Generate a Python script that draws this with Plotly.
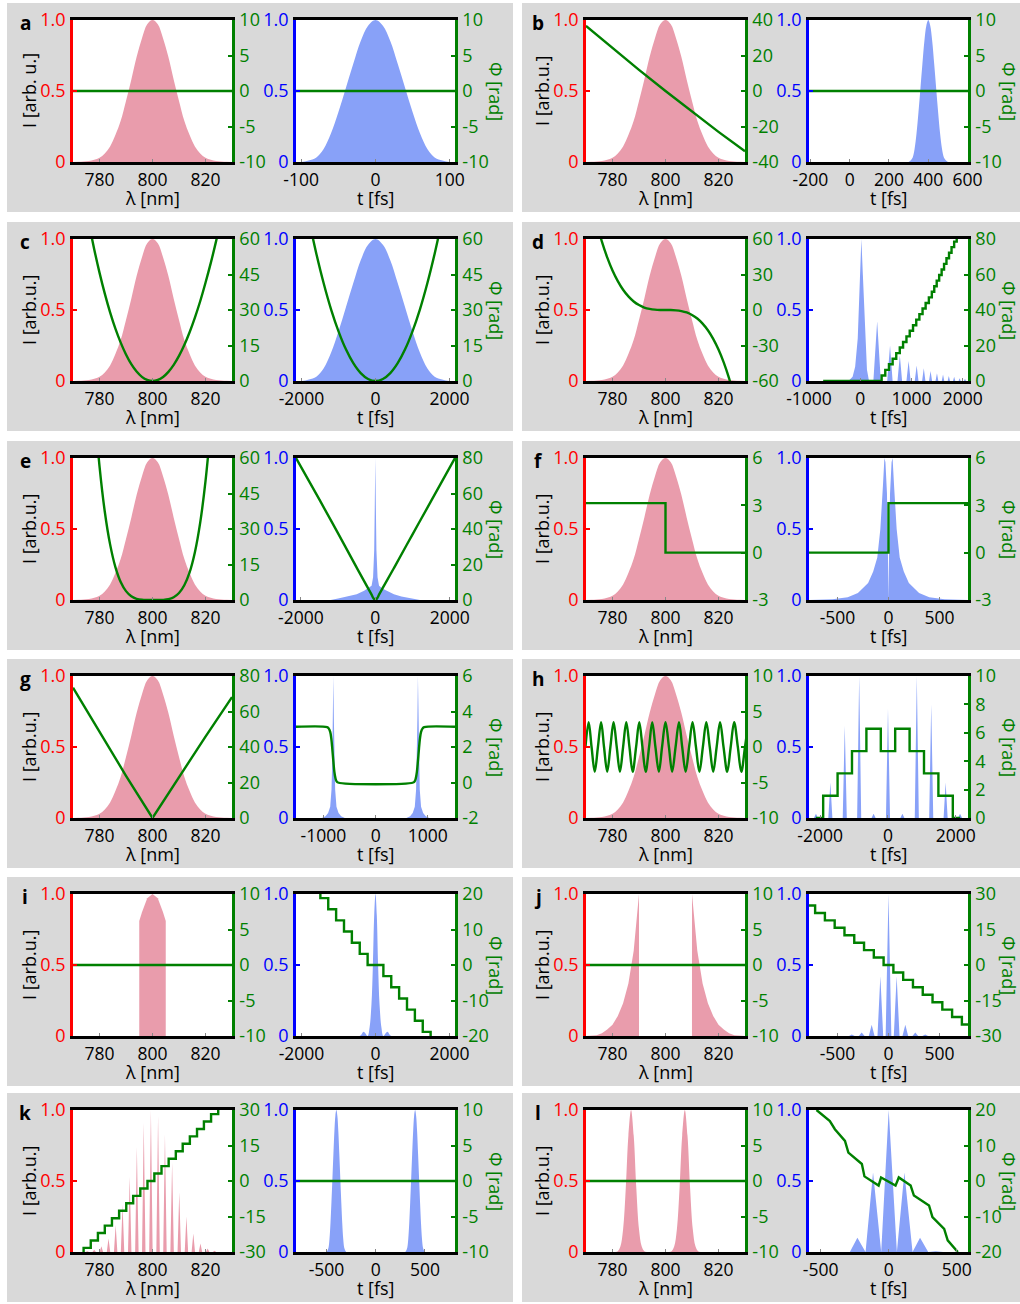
import plotly.graph_objects as go

W, H = 1020, 1304
FONT = "Open Sans"
RED, BLUE, GREEN = "#ff0000", "#0000ff", "#008000"
PINK, LBLUE = "#e99cac", "#88a1f8"
PANEL_BG = "#d9d9d9"

# ---------------- shared spectrum (panels a-h) ----------------
spec_wl = list(range(770, 831, 2))
spec_int = [0.0, 0.001, 0.003, 0.007, 0.016, 0.03, 0.06, 0.11, 0.19, 0.29, 0.43, 0.58, 0.74, 0.87, 0.97,
            1.0, 0.97, 0.87, 0.74, 0.58, 0.43, 0.29, 0.19, 0.11, 0.06, 0.03, 0.016, 0.007, 0.003, 0.001, 0.0]
flat_wl = [770, 830]
flat_phase = [0, 0]

# transform-limited pulse profile, 10 fs grid
tl_int = [0, 0, 0.01, 0.03, 0.09, 0.20, 0.35, 0.52, 0.69, 0.85, 0.96, 1.0,
          0.96, 0.85, 0.69, 0.52, 0.35, 0.20, 0.09, 0.03, 0.01, 0, 0]

# ---------------- a ----------------
a_t = list(range(-110, 111, 10))
a_tp = [-110, 110]

# ---------------- b ----------------
b_phase_wl = [770, 780, 790, 800, 810, 820, 830]
b_phase = [36.7, 24.2, 11.9, 0.0, -11.6, -23.0, -34.0]
b_t = list(range(290, 511, 10))
b_tp = [-210, 610]

# ---------------- c ----------------
c_phase_wl = list(range(776, 827, 2))
c_phase = [66.7, 55.7, 45.8, 36.9, 29.0, 22.1, 16.2, 11.2, 7.1, 4.0, 1.76, 0.44, 0.0,
           0.43, 1.72, 3.86, 6.83, 10.6, 15.2, 20.6, 26.8, 33.7, 41.5, 49.9, 59.1, 69.1]
c_t = list(range(-2200, 2201, 200))
c_tphase_t = list(range(-1800, 1801, 200))
c_tphase = [68.1, 53.8, 41.2, 30.2, 21.0, 13.4, 7.56, 3.36, 0.84, 0.0,
            0.84, 3.36, 7.56, 13.4, 21.0, 30.2, 41.2, 53.8, 68.1]

# ---------------- d ----------------
d_phase_wl = list(range(774, 827, 2))
d_phase = [73.5, 57.8, 44.5, 33.4, 24.4, 17.1, 11.5, 7.2, 4.2, 2.1, 0.9, 0.27, 0.03, 0.0,
           -0.03, -0.27, -0.9, -2.1, -4.2, -7.2, -11.5, -17.1, -24.4, -33.4, -44.5, -57.8, -73.5]
d_t = [-1000, -230, -150, -100, -50, -10, 21, 50, 90, 130, 170,
       255, 329, 400, 525, 580, 630, 725, 771, 815, 900, 942, 982, 1062, 1099, 1135,
       1205, 1238, 1270, 1340, 1370, 1400, 1467, 1495, 1522, 1588, 1613, 1638,
       1703, 1726, 1749, 1808, 1830, 1852, 1916, 1937, 1958, 2021, 2041, 2061, 2100]
d_int = [0, 0, 0.03, 0.1, 0.3, 0.65, 1.0, 0.75, 0.35, 0.08, 0,
         0, 0.42, 0, 0, 0.25, 0, 0, 0.18, 0, 0, 0.14, 0, 0, 0.11, 0,
         0, 0.09, 0, 0, 0.07, 0, 0, 0.055, 0, 0, 0.045, 0,
         0, 0.035, 0, 0, 0.03, 0, 0, 0.02, 0, 0, 0.015, 0, 0]
d_tphase_t = [-724, 416, 487, 559, 631, 701, 770, 834, 900, 964, 1028, 1091, 1152, 1214,
              1274, 1337, 1395, 1442, 1490, 1538, 1586, 1633, 1680, 1730, 1779, 1830, 1880]
d_tphase = [0, 3.14, 6.28, 9.42, 12.57, 15.71, 18.85, 21.99, 25.13, 28.27, 31.42, 34.56, 37.70,
            40.84, 43.98, 47.12, 50.27, 53.41, 56.55, 59.69, 62.83, 65.97, 69.12, 72.26, 75.40,
            78.54, 81.68]

# ---------------- e ----------------
e_phase_wl = list(range(778, 823, 2))
e_phase = [82.4, 56.6, 37.3, 23.5, 13.9, 7.6, 3.75, 1.58, 0.52, 0.11, 0.01, 0.0,
           0.0, 0.06, 0.35, 1.17, 2.95, 6.24, 11.7, 20.2, 32.7, 50.2, 73.8]
e_t = [-2140, -1200, -1000, -700, -500, -300, -200, -100, -60, -30, -15, 0,
       15, 30, 60, 100, 200, 300, 500, 700, 1000, 1200, 2140]
e_int = [0, 0, 0.01, 0.025, 0.04, 0.065, 0.08, 0.1, 0.16, 0.35, 0.65, 1.0,
         0.65, 0.35, 0.16, 0.1, 0.08, 0.065, 0.04, 0.025, 0.01, 0, 0]
e_tphase_t = [-2130, -1500, -1000, -500, -200, -100, -50, 0, 50, 100, 200, 500, 1000, 1500, 2140]
e_tphase = [80, 56.5, 37.5, 18.2, 6.8, 3.0, 1.0, 0.0, 1.0, 3.0, 6.8, 18.0, 37.0, 55.8, 80]

# ---------------- f ----------------
f_phase_wl = [770, 800, 800, 830]
f_phase = [3.14, 3.14, 0.0, 0.0]
f_t = [-780, -550, -400, -300, -200, -150, -110, -80, -55, -40, -30, -15, -5, 0,
       5, 15, 30, 40, 55, 80, 110, 150, 200, 300, 400, 550, 780]
f_int = [0, 0.006, 0.02, 0.05, 0.12, 0.2, 0.3, 0.5, 0.8, 1.0, 0.97, 0.75, 0.3, 0,
         0.3, 0.75, 0.97, 1.0, 0.8, 0.5, 0.3, 0.2, 0.12, 0.05, 0.02, 0.006, 0]
f_tphase_t = [-780, 0, 0, 780]
f_tphase = [0.0, 0.0, 3.14, 3.14]

# ---------------- g ----------------
g_phase_wl = [770, 780, 790, 800, 810, 820, 830]
g_phase = [73.4, 48.3, 23.8, 0.0, 23.3, 45.9, 68.1]
g_t = [-1525, -1030, -960, -910, -870, -845, -830, -820, -810, -800, -790, -775, -750, -710, -660, -590,
       590, 660, 710, 750, 775, 790, 800, 810, 820, 830, 845, 870, 910, 960, 1030, 1520]
g_int = [0, 0, 0.012, 0.035, 0.08, 0.2, 0.42, 0.7, 1.0, 0.7, 0.42, 0.2, 0.08, 0.035, 0.012, 0,
         0, 0.012, 0.035, 0.08, 0.2, 0.42, 0.7, 1.0, 0.7, 0.42, 0.2, 0.08, 0.035, 0.012, 0, 0]
g_tphase_t = [-1525, -930, -900, -870, -850, -830, -810, -790, -770, -750, -720,
              720, 750, 770, 790, 810, 830, 850, 870, 900, 930, 1520]
g_tphase = [3.14, 3.12, 3.05, 2.85, 2.5, 1.9, 1.2, 0.6, 0.25, 0.08, 0.0,
            0.0, 0.08, 0.25, 0.6, 1.2, 1.9, 2.5, 2.85, 3.05, 3.12, 3.14]

# ---------------- h ----------------
h_phase_wl = [769.8, 771.0, 772.1, 773.3, 774.5, 775.7, 776.8, 778.0, 779.2, 780.4, 781.6, 782.8,
              784.0, 785.2, 786.4, 787.6, 788.9, 790.1, 791.3, 792.5, 793.8, 795.0, 796.2, 797.5,
              798.7, 800.0, 801.3, 802.5, 803.8, 805.1, 806.3, 807.6, 808.9, 810.2, 811.5, 812.8,
              814.1, 815.4, 816.7, 818.0, 819.3, 820.6, 821.9, 823.3, 824.6, 825.9, 827.3, 828.6,
              830.0, 831.3]
h_phase = [0, 3.5, 0, -3.5, 0, 3.5, 0, -3.5, 0, 3.5, 0, -3.5,
           0, 3.5, 0, -3.5, 0, 3.5, 0, -3.5, 0, 3.5, 0, -3.5,
           0, 3.5, 0, -3.5, 0, 3.5, 0, -3.5, 0, 3.5, 0, -3.5,
           0, 3.5, 0, -3.5, 0, 3.5, 0, -3.5, 0, 3.5, 0, -3.5,
           0, 3.5]
h_peak_t = [-2125, -1700, -1275, -850, -425, 0, 425, 850, 1275, 1700, 2125]
h_peak_int = [0.03, 0.25, 0.65, 1.0, 0.03, 0.77, 0.03, 1.0, 0.8, 0.25, 0.03]
h_tphase_t = [-2130, -1912, -1487, -1062, -637, -212, 212, 637, 1062, 1487, 1912, 2130]
h_tphase = [0, 1.57, 3.14, 4.71, 6.28, 4.71, 6.28, 4.71, 3.14, 1.57, 0, 0]

# ---------------- i ----------------
i_wl = [795, 795, 796, 798, 800, 802, 804, 805, 805]
i_int = [0, 0.81, 0.87, 0.97, 1.0, 0.97, 0.87, 0.81, 0]
i_t = [-2150, -430, -320, -213, -160, -110, -70, -35, 0, 35, 70, 110, 160, 213, 320, 430, 2150]
i_tint = [0, 0, 0.03, 0, 0.06, 0.22, 0.5, 0.85, 1.0, 0.85, 0.5, 0.22, 0.06, 0, 0.03, 0, 0]
i_tphase_t = [-1510, -1491, -1278, -1065, -852, -639, -426, -213, 213, 426, 639, 852, 1065, 1278, 1491, 1510]
i_tphase = [21.99, 18.85, 15.71, 12.57, 9.42, 6.28, 3.14, 0.0, -3.14, -6.28, -9.42, -12.57,
            -15.71, -18.85, -21.99, -21.99]

# ---------------- j ----------------
j_wl = [770, 772, 774, 776, 778, 780, 782, 784, 786, 788, 789, 790, 790.01,
        809.99, 810, 811, 812, 814, 816, 818, 820, 822, 824, 826, 828, 830]
j_int = [0, 0.001, 0.005, 0.02, 0.045, 0.08, 0.14, 0.23, 0.37, 0.6, 0.78, 1.0, 0,
         0, 1.0, 0.78, 0.6, 0.37, 0.23, 0.14, 0.08, 0.045, 0.02, 0.005, 0.001, 0]
j_peak_t = [-360, -263, -165, -80, 0, 80, 165, 263, 360]
j_peak_int = [0.01, 0.025, 0.08, 0.42, 1.0, 0.42, 0.08, 0.025, 0.01]
j_tphase_t = [-780, -720, -624, -528, -432, -336, -240, -144, -48, 48, 144, 240, 336, 432, 528, 624, 720, 780]
j_tphase = [25.13, 21.99, 18.85, 15.71, 12.57, 9.42, 6.28, 3.14, 0.0, -3.14, -6.28, -9.42,
            -12.57, -15.71, -18.85, -21.99, -25.13, -25.13]

# ---------------- k ----------------
k_peak_wl = [772.7, 775.4, 778.0, 780.7, 783.4, 786.1, 788.7, 791.4, 794.1, 796.7,
             799.4, 802.1, 804.7, 807.4, 810.1, 812.8, 815.4, 818.1, 820.8, 823.4]
k_peak_int = [0.002, 0.006, 0.016, 0.041, 0.095, 0.19, 0.335, 0.53, 0.74, 0.91,
              1.0, 0.96, 0.83, 0.63, 0.42, 0.25, 0.13, 0.06, 0.025, 0.009]
k_phase_wl = [772.0, 774.0, 776.7, 779.4, 782.0, 784.7, 787.4, 790.1, 792.7, 795.4, 798.1,
              800.7, 803.4, 806.1, 808.8, 811.4, 814.1, 816.8, 819.4, 822.1, 824.8]
k_phase = [-31.42, -28.27, -25.13, -21.99, -18.85, -15.71, -12.57, -9.42, -6.28, -3.14, 0.0,
           3.14, 6.28, 9.42, 12.57, 15.71, 18.85, 21.99, 25.13, 28.27, 31.42]
k_t1 = list(range(-510, -289, 10))
k_t2 = list(range(290, 511, 10))
k_tp = [-810, 810]

# ---------------- l ----------------
l_wl1 = [781, 782, 783, 784, 785, 786, 787, 788, 789, 790, 791, 792, 793]
l_wl2 = [801.3, 802.3, 803.3, 804.3, 805.3, 806.3, 807.3, 808.3, 809.3, 810.3, 811.3, 812.3, 813.3]
l_line = [0, 0.006, 0.04, 0.16, 0.445, 0.82, 1.0, 0.82, 0.445, 0.16, 0.04, 0.006, 0]
l_peak_t = [-345, -230, -115, 0, 115, 230, 345]
l_peak_int = [0.005, 0.1, 0.56, 1.0, 0.56, 0.1, 0.005]
l_tphase_t = [-530, -432, -395, -321, -296, -197, -178, -74, -56, 50, 74, 161, 185, 296, 321, 407, 433, 507]
l_tphase = [20, 16.9, 14.6, 11.3, 8.0, 4.8, 1.3, -1.3, 1.0, -1.3, 1.0, -1.3, -4.1, -6.9, -10.2,
            -13.5, -16.7, -20]


def spikes(lo, hi, centers, heights, hw):
    xs, ys = [lo], [0]
    for c, h in zip(centers, heights):
        xs += [c - hw, c, c + hw]
        ys += [0, h, 0]
    xs.append(hi)
    ys.append(0)
    return xs, ys


h_t, h_int = spikes(-2340, 2360, h_peak_t, h_peak_int, 60)
j_t, j_int_t = spikes(-780, 780, j_peak_t, j_peak_int, 28)
k_wl, k_int = spikes(770, 830, k_peak_wl, k_peak_int, 0.65)
l_t, l_int = spikes(-585, 585, l_peak_t, l_peak_int, 55)

P10 = ([-10, -5, 0, 5, 10], [-10, 10])
SPEC_X = dict(range=[770, 830], ticks=[780, 800, 820])

panels = [
    dict(letter="a", row=0, col=0, ylabel="I [arb. u.]",
         spec=[(spec_wl, spec_int, "spline")], sphase=(flat_wl, flat_phase, "linear"), sp=P10,
         time=[(a_t, tl_int, "spline")], tphase=(a_tp, flat_phase, "linear"), tp=P10,
         trange=[-107, 107], tticks=[-100, 0, 100]),
    dict(letter="b", row=0, col=1, ylabel="I [arb.u.]",
         spec=[(spec_wl, spec_int, "spline")], sphase=(b_phase_wl, b_phase, "linear"),
         sp=([-40, -20, 0, 20, 40], [-40, 40]),
         time=[(b_t, tl_int, "spline")], tphase=(b_tp, flat_phase, "linear"), tp=P10,
         trange=[-207, 602], tticks=[-200, 0, 200, 400, 600]),
    dict(letter="c", row=1, col=0, ylabel="I [arb.u.]",
         spec=[(spec_wl, spec_int, "spline")], sphase=(c_phase_wl, c_phase, "spline"),
         sp=([0, 15, 30, 45, 60], [0, 60]),
         time=[(c_t, tl_int, "spline")], tphase=(c_tphase_t, c_tphase, "spline"),
         tp=([0, 15, 30, 45, 60], [0, 60]),
         trange=[-2150, 2150], tticks=[-2000, 0, 2000]),
    dict(letter="d", row=1, col=1, ylabel="I [arb.u.]",
         spec=[(spec_wl, spec_int, "spline")], sphase=(d_phase_wl, d_phase, "spline"),
         sp=([-60, -30, 0, 30, 60], [-60, 60]),
         time=[(d_t, d_int, "linear")], tphase=(d_tphase_t, d_tphase, "hv"),
         tp=([0, 20, 40, 60, 80], [0, 80]),
         trange=[-1000, 2100], tticks=[-1000, 0, 1000, 2000]),
    dict(letter="e", row=2, col=0, ylabel="I [arb.u.]",
         spec=[(spec_wl, spec_int, "spline")], sphase=(e_phase_wl, e_phase, "spline"),
         sp=([0, 15, 30, 45, 60], [0, 60]),
         time=[(e_t, e_int, "linear")], tphase=(e_tphase_t, e_tphase, "spline"),
         tp=([0, 20, 40, 60, 80], [0, 80]),
         trange=[-2130, 2140], tticks=[-2000, 0, 2000]),
    dict(letter="f", row=2, col=1, ylabel="I [arb.u.]",
         spec=[(spec_wl, spec_int, "spline")], sphase=(f_phase_wl, f_phase, "linear"),
         sp=([-3, 0, 3, 6], [-3, 6]),
         time=[(f_t, f_int, "linear")], tphase=(f_tphase_t, f_tphase, "linear"),
         tp=([-3, 0, 3, 6], [-3, 6]),
         trange=[-780, 780], tticks=[-500, 0, 500]),
    dict(letter="g", row=3, col=0, ylabel="I [arb.u.]",
         spec=[(spec_wl, spec_int, "spline")], sphase=(g_phase_wl, g_phase, "linear"),
         sp=([0, 20, 40, 60, 80], [0, 80]),
         time=[(g_t, g_int, "linear")], tphase=(g_tphase_t, g_tphase, "spline"),
         tp=([-2, 0, 2, 4, 6], [-2, 6]),
         trange=[-1525, 1520], tticks=[-1000, 0, 1000]),
    dict(letter="h", row=3, col=1, ylabel="I [arb.u.]",
         spec=[(spec_wl, spec_int, "spline")], sphase=(h_phase_wl, h_phase, "spline"), sp=P10,
         time=[(h_t, h_int, "linear")], tphase=(h_tphase_t, h_tphase, "hv"),
         tp=([0, 2, 4, 6, 8, 10], [0, 10]),
         trange=[-2330, 2360], tticks=[-2000, 0, 2000]),
    dict(letter="i", row=4, col=0, ylabel="I [arb.u.]",
         spec=[(i_wl, i_int, "linear")], sphase=(flat_wl, flat_phase, "linear"), sp=P10,
         time=[(i_t, i_tint, "spline")], tphase=(i_tphase_t, i_tphase, "hv"),
         tp=([-20, -10, 0, 10, 20], [-20, 20]),
         trange=[-2150, 2150], tticks=[-2000, 0, 2000]),
    dict(letter="j", row=4, col=1, ylabel="I [arb.u.]",
         spec=[(j_wl, j_int, "linear")], sphase=(flat_wl, flat_phase, "linear"), sp=P10,
         time=[(j_t, j_int_t, "linear")], tphase=(j_tphase_t, j_tphase, "hv"),
         tp=([-30, -15, 0, 15, 30], [-30, 30]),
         trange=[-780, 780], tticks=[-500, 0, 500]),
    dict(letter="k", row=5, col=0, ylabel="I [arb.u.]",
         spec=[(k_wl, k_int, "linear")], sphase=(k_phase_wl, k_phase, "hv"),
         sp=([-30, -15, 0, 15, 30], [-30, 30]),
         time=[(k_t1, tl_int, "spline"), (k_t2, tl_int, "spline")],
         tphase=(k_tp, flat_phase, "linear"), tp=P10,
         trange=[-810, 805], tticks=[-500, 0, 500]),
    dict(letter="l", row=5, col=1, ylabel="I [arb.u.]",
         spec=[(l_wl1, l_line, "spline"), (l_wl2, l_line, "spline")],
         sphase=(flat_wl, flat_phase, "linear"), sp=P10,
         time=[(l_t, l_int, "linear")], tphase=(l_tphase_t, l_tphase, "linear"),
         tp=([-20, -10, 0, 10, 20], [-20, 20]),
         trange=[-585, 582], tticks=[-500, 0, 500]),
]

ROW_TOP = [20, 239, 458, 676, 894, 1110]
PLOT_H = 142
COL_OFF = [0, 513]
SPEC_PX = (73, 232)
TIME_PX = (296, 455)


def fx(x):
    return x / W


def fy(y):
    return 1 - y / H


def fmt(v):
    if v == 1:
        return "1.0"
    return ("%g" % v)


fig = go.Figure()
layout = dict(width=W, height=H, margin=dict(l=0, r=0, t=0, b=0, autoexpand=False),
              paper_bgcolor="white", plot_bgcolor="white", showlegend=False,
              font=dict(family=FONT, size=18, color="black"))
shapes, annotations = [], []
count = [0]


def aid(prefix, k):
    return prefix if k == 1 else f"{prefix}{k}"


def lkey(prefix, k):
    return f"{prefix}axis" if k == 1 else f"{prefix}axis{k}"


def add_plot(x0, x1, top, xr, xt, lcolor, fillc, intens, phase, pticks):
    count[0] += 1
    n = count[0]
    yp, ys = 2 * n - 1, 2 * n
    xd = [fx(x0), fx(x1)]
    yd = [fy(top + PLOT_H), fy(top)]
    shapes.append(dict(type="rect", xref="paper", yref="paper", x0=xd[0], x1=xd[1], y0=yd[0], y1=yd[1],
                       fillcolor="white", line=dict(width=0), layer="below"))
    layout[lkey("x", n)] = dict(domain=xd, range=xr, anchor=aid("y", yp), tickvals=xt,
                                ticktext=[fmt(v) for v in xt], showline=True, linecolor="black",
                                linewidth=2.5, mirror=True, ticks="inside", ticklen=3, tickwidth=1,
                                tickcolor="#888", showgrid=False, zeroline=False, automargin=False,
                                tickfont=dict(size=17.5, color="black"), ticklabelstandoff=0)
    layout[lkey("y", yp)] = dict(domain=yd, range=[0, 1], anchor=aid("x", n), tickvals=[0, 0.5, 1],
                                 ticktext=["0", "0.5", "1.0"], showline=True, linecolor=lcolor,
                                 linewidth=2.5, ticks="inside", ticklen=4, tickwidth=2, tickcolor=lcolor,
                                 showgrid=False, zeroline=False, tickfont=dict(size=18, color=lcolor),
                                 ticklabelstandoff=1, automargin=False)
    layout[lkey("y", ys)] = dict(overlaying=aid("y", yp), side="right", anchor=aid("x", n),
                                 range=pticks[1], tickvals=pticks[0],
                                 ticktext=[fmt(v) if v != 1 else "1" for v in pticks[0]],
                                 showline=True, linecolor=GREEN, linewidth=2.5, ticks="inside",
                                 ticklen=4, tickwidth=2, tickcolor=GREEN, showgrid=False,
                                 zeroline=False, tickfont=dict(size=18, color=GREEN),
                                 ticklabelstandoff=1, automargin=False)
    for xs, ysv, shp in intens:
        fig.add_trace(go.Scatter(x=xs, y=ysv, mode="lines", fill="tozeroy", fillcolor=fillc,
                                 line=dict(width=0, shape=shp, color=fillc),
                                 xaxis=aid("x", n), yaxis=aid("y", yp), hoverinfo="skip"))
    xs, ysv, shp = phase
    fig.add_trace(go.Scatter(x=xs, y=ysv, mode="lines", line=dict(color=GREEN, width=2.4, shape=shp),
                             xaxis=aid("x", n), yaxis=aid("y", ys), hoverinfo="skip"))


def note(x, y, text, color="black", angle=0, size=18):
    annotations.append(dict(x=fx(x), y=fy(y), xref="paper", yref="paper", text=text, showarrow=False,
                            xanchor="center", yanchor="middle", textangle=angle,
                            font=dict(family=FONT, size=size, color=color)))


for p in panels:
    top = ROW_TOP[p["row"]]
    gx0, gx1 = (7, 513) if p["col"] == 0 else (522, 1020)
    shapes.append(dict(type="rect", xref="paper", yref="paper", x0=fx(gx0), x1=fx(gx1),
                       y0=fy(top + 192), y1=fy(top - 17), fillcolor=PANEL_BG, line=dict(width=0),
                       layer="below"))
for p in panels:
    top = ROW_TOP[p["row"]]
    off = COL_OFF[p["col"]]
    bot = top + PLOT_H
    add_plot(SPEC_PX[0] + off, SPEC_PX[1] + off, top, SPEC_X["range"], SPEC_X["ticks"], RED, PINK,
             p["spec"], p["sphase"], p["sp"])
    add_plot(TIME_PX[0] + off, TIME_PX[1] + off, top, p["trange"], p["tticks"], BLUE, LBLUE,
             p["time"], p["tphase"], p["tp"])
    note(SPEC_PX[0] + off - 48, top + 3, "<b>%s</b>" % p["letter"], size=19)
    note(SPEC_PX[0] + off - 44, top + PLOT_H / 2, p["ylabel"], angle=-90)
    note(TIME_PX[1] + off + 41, top + PLOT_H / 2, "Φ [rad]", color=GREEN, angle=90)
    note((SPEC_PX[0] + SPEC_PX[1]) / 2 + off, bot + 36, "λ [nm]")
    note((TIME_PX[0] + TIME_PX[1]) / 2 + off, bot + 36, "t [fs]")

layout["shapes"] = shapes
layout["annotations"] = annotations
fig.update_layout(**layout)
fig.write_html("out.html")
